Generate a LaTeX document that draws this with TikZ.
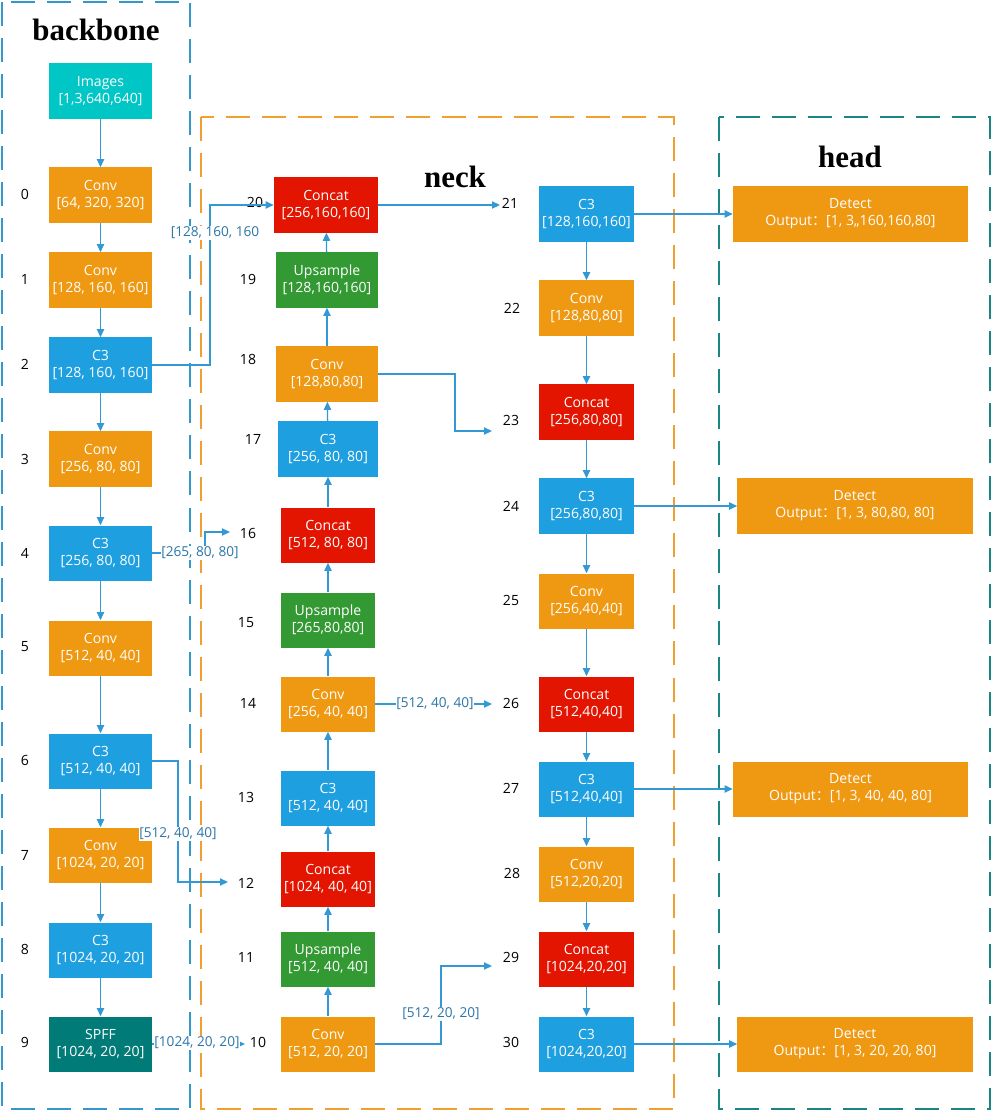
\documentclass[tikz,border=0pt]{standalone}
\usepackage{fontspec}
\setmainfont{Open Sans}
\newfontfamily\titlefont{Liberation Serif}
\newfontfamily\cjkfont{Noto Sans CJK SC}
\usepackage{xcolor}
\usetikzlibrary{arrows.meta,positioning}
\definecolor{cOrange}{HTML}{EF9812}
\definecolor{cBlue}{HTML}{1E9FDF}
\definecolor{cRed}{HTML}{E31400}
\definecolor{cGreen}{HTML}{339933}
\definecolor{cCyan}{HTML}{00C6C6}
\definecolor{cTeal}{HTML}{007B78}
\definecolor{cLine}{HTML}{3399D4}
\definecolor{cDim}{HTML}{2B75A8}
\definecolor{frameB}{HTML}{3399CC}
\definecolor{frameN}{HTML}{F0A030}
\definecolor{frameH}{HTML}{1A8585}

\begin{document}
\begin{tikzpicture}[
  x=0.025cm,
  y=-0.025cm,
  layer/.style={rectangle, text=white, align=center, minimum width=2.575cm, minimum height=1.375cm, inner sep=1pt, font=\normalsize},
  nlayer/.style={layer, minimum width=2.35cm},
  hlayer/.style={layer, minimum width=5.875cm},
  conv/.style={fill=cOrange},
  cthree/.style={fill=cBlue},
  concat/.style={fill=cRed},
  upsmp/.style={fill=cGreen},
  idx/.style={font=\normalsize},
  flow/.style={-{Triangle[length=2mm,width=1.8mm]}, draw=cLine, line width=0.9pt},
  dim/.style={font=\fontsize{9.7}{11}\selectfont, text=cDim, fill=white, inner sep=0.5pt},
  frame/.style={dash pattern=on 0.6cm off 0.3cm, line width=1.4pt},
  title/.style={font=\titlefont\bfseries\fontsize{22}{24}\selectfont}
]
\useasboundingbox (0,0) rectangle (992,1112);

% group frames
\draw[frame, draw=frameB] (2,2) rectangle (190,1109);
\draw[frame, draw=frameN] (201,117) rectangle (674,1109);
\draw[frame, draw=frameH] (719,117) rectangle (990,1109);
\node[title] (tBack) at (96,30) {backbone};
\node[title] (tNeck) at (455,177) {neck};
\node[title] (tHead) at (850,157) {head};

% backbone
\node[layer, fill=cCyan] (img) at (100.5,91) {Images\\{}[1,3,640,640]};
\node[layer, conv] (b0) at (100.5,195) {Conv\\{}[64, 320, 320]};
\node[layer, conv] (b1) at (100.5,280) {Conv\\{}[128, 160, 160]};
\node[layer, cthree] (b2) at (100.5,365) {C3\\{}[128, 160, 160]};
\node[layer, conv] (b3) at (100.5,459) {Conv\\{}[256, 80, 80]};
\node[layer, cthree] (b4) at (100.5,553) {C3\\{}[256, 80, 80]};
\node[layer, conv] (b5) at (100.5,648) {Conv\\{}[512, 40, 40]};
\node[layer, cthree] (b6) at (100.5,761) {C3\\{}[512, 40, 40]};
\node[layer, conv] (b7) at (100.5,855) {Conv\\{}[1024, 20, 20]};
\node[layer, cthree] (b8) at (100.5,950) {C3\\{}[1024, 20, 20]};
\node[layer, fill=cTeal] (b9) at (100.5,1044) {SPFF\\{}[1024, 20, 20]};
\node[idx] (i0) at (25,194) {0};
\node[idx] (i1) at (25,279) {1};
\node[idx] (i2) at (25,364) {2};
\node[idx] (i3) at (25,459) {3};
\node[idx] (i4) at (25,553) {4};
\node[idx] (i5) at (25,647) {5};
\node[idx] (i6) at (25,760) {6};
\node[idx] (i7) at (25,855) {7};
\node[idx] (i8) at (25,949) {8};
\node[idx] (i9) at (25,1042) {9};
\draw[flow] (img) -- (b0);
\draw[flow] (b0) -- (b1);
\draw[flow] (b1) -- (b2);
\draw[flow] (b2) -- (b3);
\draw[flow] (b3) -- (b4);
\draw[flow] (b4) -- (b5);
\draw[flow] (b5) -- (b6);
\draw[flow] (b6) -- (b7);
\draw[flow] (b7) -- (b8);
\draw[flow] (b8) -- (b9);

% neck, upward column
\node[nlayer, concat, minimum width=2.6cm] (n20) at (326,205) {Concat\\{}[256,160,160]};
\node[nlayer, upsmp, minimum width=2.55cm] (n19) at (327,280) {Upsample\\{}[128,160,160]};
\node[nlayer, conv, minimum width=2.55cm] (n18) at (327,374) {Conv\\{}[128,80,80]};
\node[nlayer, cthree, minimum width=2.5cm] (n17) at (328,449) {C3\\{}[256, 80, 80]};
\node[nlayer, concat] (n16) at (328,535) {Concat\\{}[512, 80, 80]};
\node[nlayer, upsmp] (n15) at (328,620) {Upsample\\{}[265,80,80]};
\node[nlayer, conv] (n14) at (328,704) {Conv\\{}[256, 40, 40]};
\node[nlayer, cthree] (n13) at (328,798) {C3\\{}[512, 40, 40]};
\node[nlayer, concat] (n12) at (328,879) {Concat\\{}[1024, 40, 40]};
\node[nlayer, upsmp] (n11) at (328,959) {Upsample\\{}[512, 40, 40]};
\node[nlayer, conv] (n10) at (328,1044) {Conv\\{}[512, 20, 20]};
\node[idx] (i20) at (255,202) {20};
\node[idx] (i19) at (248,279) {19};
\node[idx] (i18) at (248,359) {18};
\node[idx] (i17) at (253,439) {17};
\node[idx] (i16) at (248,533) {16};
\node[idx] (i15) at (246,623) {15};
\node[idx] (i14) at (248,703) {14};
\node[idx] (i13) at (246,797) {13};
\node[idx] (i12) at (246,883) {12};
\node[idx] (i11) at (246,957) {11};
\node[idx] (i10) at (258,1042) {10};
\draw[flow] (n10) -- (n11);
\draw[flow] (n11) -- (n12);
\draw[flow] (n12) -- (n13);
\draw[flow] (n13) -- (n14);
\draw[flow] (n14) -- (n15);
\draw[flow] (n15) -- (n16);
\draw[flow] (n16) -- (n17);
\draw[flow] (n17) -- (n18);
\draw[flow] (n18) -- (n19);
\draw[flow] (n19) -- (n20);

% neck, downward column
\node[nlayer, cthree] (n21) at (586.5,214) {C3\\{}[128,160,160]};
\node[nlayer, conv] (n22) at (586.5,308) {Conv\\{}[128,80,80]};
\node[nlayer, concat] (n23) at (586.5,412) {Concat\\{}[256,80,80]};
\node[nlayer, cthree] (n24) at (586.5,506) {C3\\{}[256,80,80]};
\node[nlayer, conv] (n25) at (586.5,601) {Conv\\{}[256,40,40]};
\node[nlayer, concat] (n26) at (586.5,704) {Concat\\{}[512,40,40]};
\node[nlayer, cthree] (n27) at (586.5,789) {C3\\{}[512,40,40]};
\node[nlayer, conv] (n28) at (586.5,874) {Conv\\{}[512,20,20]};
\node[nlayer, concat] (n29) at (586.5,959) {Concat\\{}[1024,20,20]};
\node[nlayer, cthree] (n30) at (586.5,1044) {C3\\{}[1024,20,20]};
\node[idx] (i21) at (510,203) {21};
\node[idx] (i22) at (512,308) {22};
\node[idx] (i23) at (511,420) {23};
\node[idx] (i24) at (511,506) {24};
\node[idx] (i25) at (511,600) {25};
\node[idx] (i26) at (511,703) {26};
\node[idx] (i27) at (511,788) {27};
\node[idx] (i28) at (512,873) {28};
\node[idx] (i29) at (511,957) {29};
\node[idx] (i30) at (511,1042) {30};
\draw[flow] (n21) -- (n22);
\draw[flow] (n22) -- (n23);
\draw[flow] (n23) -- (n24);
\draw[flow] (n24) -- (n25);
\draw[flow] (n25) -- (n26);
\draw[flow] (n26) -- (n27);
\draw[flow] (n27) -- (n28);
\draw[flow] (n28) -- (n29);
\draw[flow] (n29) -- (n30);

% head
\node[hlayer, conv] (d21) at (850.5,214) {Detect\\Output{\cjkfont ：}[1, 3,,160,160,80]};
\node[hlayer, conv] (d24) at (855,506) {Detect\\Output{\cjkfont ：}[1, 3, 80,80, 80]};
\node[hlayer, conv] (d27) at (850.5,789) {Detect\\Output{\cjkfont ：}[1, 3, 40, 40, 80]};
\node[hlayer, conv] (d30) at (855,1044) {Detect\\Output{\cjkfont ：}[1, 3, 20, 20, 80]};
\draw[flow] (n21) -- (d21);
\draw[flow] (n24) -- (d24);
\draw[flow] (n27) -- (d27);
\draw[flow] (n30) -- (d30);

% skip connections
\coordinate (c16) at (230,532);
\coordinate (c12) at (228,882);
\coordinate (c10) at (245,1044);
\coordinate (c21) at (500,205);
\coordinate (c23) at (492,431);
\coordinate (c26) at (492,704);
\coordinate (c29) at (492,966);
\draw[flow] (b2.east) -- (210,365) |- (n20.west);
\node[dim] (s2) at (215,233) {[128, 160, 160};
\draw[flow] (b4.east) -- (205,553) |- (c16);
\node[dim] (s4) at (200,553) {[265, 80, 80]};
\draw[flow] (b6.east) -- (178,761) |- (c12);
\node[dim] (s6) at (178,834) {[512, 40, 40]};
\draw[flow] (b9.east) -- (c10);
\node[dim] (s9) at (197,1043) {[1024, 20, 20]};
\draw[flow] (n20.east) -- (c21);
\draw[flow] (n18.east) -- (455,374) |- (c23);
\draw[flow] (n14.east) -- (c26);
\node[dim] (s14) at (435,704) {[512, 40, 40]};
\draw[flow] (n10.east) -- (441,1044) |- (c29);
\node[dim] (s10) at (441,1014) {[512, 20, 20]};
\end{tikzpicture}
\end{document}
